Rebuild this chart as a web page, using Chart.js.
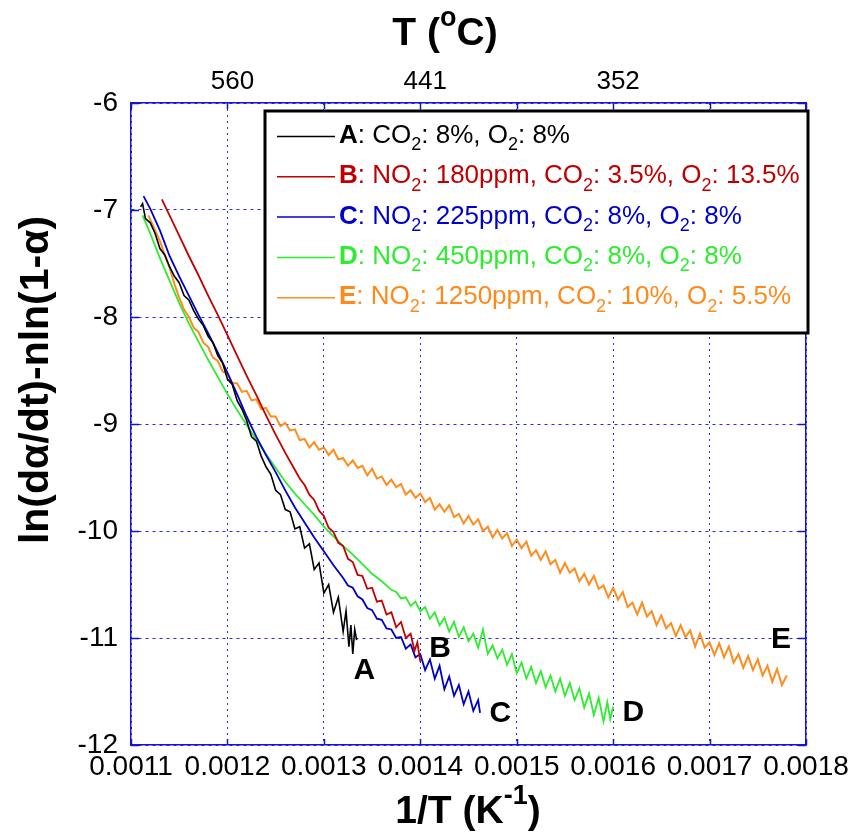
<!DOCTYPE html>
<html>
<head>
<meta charset="utf-8">
<script src="https://cdn.jsdelivr.net/npm/chart.js@4.4.1/dist/chart.umd.min.js"></script>
<style>
  html, body { margin: 0; padding: 0; background: #fff; }
  #wrap { width: 858px; height: 833px; }
</style>
</head>
<body>
<div id="wrap"><canvas id="chart" width="858" height="833"></canvas></div>
<script>
// axis ranges and ticks
const xMin = 0.0011, xMax = 0.0018;
const yMin = -12, yMax = -6;
const xTicks = [0.0011, 0.0012, 0.0013, 0.0014, 0.0015, 0.0016, 0.0017, 0.0018];
const yTicks = [-12, -11, -10, -9, -8, -7, -6];
const topTickPos = [0.0012, 0.0014, 0.0016];
const topTickLabels = ['560', '441', '352'];

// series
const seriesNames = ['A', 'B', 'C', 'D', 'E'];
const seriesColors = ['#000000', '#c40000', '#0000c8', '#2eec2e', '#ff8c1e'];
const legendColors = ['#000000', '#c00000', '#0000cc', '#2eec2e', '#ff8a1a'];
const legendText = [
  '*A*: CO_2: 8%, O_2: 8%',
  '*B*: NO_2: 180ppm, CO_2: 3.5%, O_2: 13.5%',
  '*C*: NO_2: 225ppm, CO_2: 8%, O_2: 8%',
  '*D*: NO_2: 450ppm, CO_2: 8%, O_2: 8%',
  '*E*: NO_2: 1250ppm, CO_2: 10%, O_2: 5.5%'
];

const curveA = [[0.001110,-6.97],[0.001112,-6.94],[0.001115,-7.08],[0.001120,-7.12],[0.001125,-7.22],[0.001130,-7.36],
  [0.001135,-7.42],[0.001140,-7.53],[0.001145,-7.62],[0.001150,-7.68],[0.001155,-7.80],[0.001160,-7.84],[0.001165,-7.94],
  [0.001170,-8.02],[0.001175,-8.08],[0.001180,-8.18],[0.001185,-8.24],[0.001190,-8.36],[0.001195,-8.43],[0.001200,-8.58],
  [0.001205,-8.63],[0.001210,-8.78],[0.001215,-8.86],[0.001220,-8.97],[0.001225,-9.12],[0.001230,-9.16],[0.001235,-9.30],
  [0.001240,-9.40],[0.001245,-9.47],[0.001250,-9.62],[0.001255,-9.66],[0.001260,-9.80],[0.001265,-9.82],[0.001270,-9.98],
  [0.001275,-9.96],[0.001280,-10.16],[0.001285,-10.12],[0.001290,-10.36],[0.001295,-10.30],[0.001300,-10.58],[0.001305,-10.50],
  [0.001310,-10.76],[0.001315,-10.62],[0.001320,-10.94],[0.001323,-10.75],[0.001326,-11.08],[0.001328,-10.88],[0.001330,-11.15],
  [0.001332,-10.92],[0.001334,-11.02]];

const curveB = [[0.001132,-6.90],[0.001140,-7.05],[0.001150,-7.24],[0.001160,-7.43],[0.001170,-7.61],[0.001180,-7.80],
  [0.001190,-7.98],[0.001200,-8.17],[0.001210,-8.36],[0.001220,-8.55],[0.001230,-8.73],[0.001240,-8.92],[0.001250,-9.10],
  [0.001260,-9.27],[0.001270,-9.43],[0.001275,-9.51],[0.001280,-9.57],[0.001285,-9.66],[0.001290,-9.71],[0.001295,-9.81],
  [0.001300,-9.86],[0.001305,-9.97],[0.001310,-10.01],[0.001315,-10.11],[0.001320,-10.14],[0.001325,-10.26],[0.001330,-10.29],
  [0.001335,-10.41],[0.001340,-10.42],[0.001345,-10.54],[0.001350,-10.53],[0.001355,-10.66],[0.001360,-10.65],[0.001365,-10.78],
  [0.001370,-10.76],[0.001375,-10.90],[0.001380,-10.85],[0.001385,-11.00],[0.001390,-10.96],[0.001394,-11.12],[0.001397,-11.04],
  [0.001400,-11.22]];

const curveC = [[0.001113,-6.87],[0.001120,-6.99],[0.001130,-7.19],[0.001140,-7.43],[0.001150,-7.62],[0.001160,-7.80],
  [0.001170,-7.98],[0.001180,-8.15],[0.001190,-8.33],[0.001200,-8.52],[0.001210,-8.72],[0.001220,-8.93],[0.001230,-9.12],
  [0.001240,-9.29],[0.001250,-9.45],[0.001260,-9.62],[0.001270,-9.78],[0.001280,-9.92],[0.001290,-10.06],[0.001300,-10.19],
  [0.001310,-10.32],[0.001320,-10.44],[0.001325,-10.51],[0.001330,-10.53],[0.001335,-10.61],[0.001340,-10.64],[0.001345,-10.72],
  [0.001350,-10.74],[0.001355,-10.82],[0.001360,-10.83],[0.001365,-10.91],[0.001370,-10.92],[0.001375,-11.00],[0.001380,-10.99],
  [0.001385,-11.10],[0.001390,-11.06],[0.001395,-11.18],[0.001400,-11.15],[0.001405,-11.30],[0.001410,-11.20],[0.001415,-11.38],
  [0.001420,-11.26],[0.001425,-11.48],[0.001430,-11.36],[0.001435,-11.54],[0.001440,-11.44],[0.001445,-11.62],[0.001450,-11.50],
  [0.001455,-11.68],[0.001460,-11.58],[0.001462,-11.70]];

const curveD = [[0.001112,-7.05],[0.001120,-7.22],[0.001130,-7.45],[0.001140,-7.66],[0.001150,-7.87],[0.001160,-8.06],
  [0.001170,-8.23],[0.001180,-8.40],[0.001190,-8.56],[0.001200,-8.72],[0.001210,-8.87],[0.001220,-9.01],[0.001230,-9.15],
  [0.001240,-9.28],[0.001250,-9.41],[0.001260,-9.54],[0.001270,-9.65],[0.001280,-9.75],[0.001290,-9.85],[0.001300,-9.96],
  [0.001310,-10.05],[0.001320,-10.14],[0.001330,-10.22],[0.001340,-10.31],[0.001350,-10.40],[0.001360,-10.47],[0.001370,-10.55],
  [0.001375,-10.57],[0.001380,-10.63],[0.001385,-10.62],[0.001390,-10.70],[0.001395,-10.66],[0.001400,-10.75],[0.001405,-10.71],
  [0.001410,-10.82],[0.001415,-10.76],[0.001420,-10.88],[0.001425,-10.81],[0.001430,-10.94],[0.001435,-10.85],[0.001440,-10.99],
  [0.001445,-10.90],[0.001450,-11.03],[0.001455,-10.96],[0.001460,-11.09],[0.001465,-10.92],[0.001470,-11.15],[0.001475,-11.07],
  [0.001480,-11.19],[0.001485,-11.11],[0.001490,-11.25],[0.001495,-11.15],[0.001500,-11.33],[0.001505,-11.23],[0.001510,-11.38],
  [0.001515,-11.27],[0.001520,-11.42],[0.001525,-11.31],[0.001530,-11.46],[0.001535,-11.35],[0.001540,-11.50],[0.001545,-11.38],
  [0.001550,-11.54],[0.001555,-11.42],[0.001560,-11.58],[0.001565,-11.47],[0.001570,-11.65],[0.001575,-11.52],[0.001580,-11.72],
  [0.001585,-11.56],[0.001590,-11.78],[0.001594,-11.60],[0.001597,-11.76],[0.001600,-11.64]];

const curveE = [[0.001118,-7.05],[0.001125,-7.19],[0.001130,-7.29],[0.001135,-7.42],[0.001140,-7.54],[0.001145,-7.69],
  [0.001150,-7.82],[0.001155,-7.93],[0.001160,-8.00],[0.001165,-8.10],[0.001170,-8.14],[0.001175,-8.24],[0.001180,-8.28],
  [0.001185,-8.38],[0.001190,-8.41],[0.001195,-8.51],[0.001200,-8.53],[0.001205,-8.62],[0.001210,-8.62],[0.001215,-8.70],
  [0.001220,-8.69],[0.001225,-8.78],[0.001230,-8.77],[0.001235,-8.86],[0.001240,-8.85],[0.001245,-8.93],
  [0.001250,-8.93],[0.001255,-9.02],[0.001260,-8.99],[0.001265,-9.06],[0.001270,-9.05],[0.001275,-9.15],[0.001280,-9.14],
  [0.001285,-9.22],[0.001290,-9.17],[0.001295,-9.24],[0.001300,-9.22],[0.001305,-9.29],[0.001310,-9.24],[0.001315,-9.33],
  [0.001320,-9.32],[0.001325,-9.39],[0.001330,-9.34],[0.001335,-9.41],[0.001340,-9.39],[0.001345,-9.48],[0.001350,-9.42],
  [0.001355,-9.51],[0.001360,-9.49],[0.001365,-9.57],[0.001370,-9.52],[0.001375,-9.59],[0.001380,-9.56],[0.001385,-9.66],
  [0.001390,-9.62],[0.001395,-9.69],[0.001400,-9.65],[0.001405,-9.73],[0.001410,-9.69],[0.001415,-9.80],[0.001420,-9.75],
  [0.001425,-9.82],[0.001430,-9.76],[0.001435,-9.87],[0.001440,-9.84],[0.001445,-9.93],[0.001450,-9.86],[0.001455,-9.94],
  [0.001460,-9.89],[0.001465,-10.00],[0.001470,-9.96],[0.001475,-10.06],[0.001480,-9.99],[0.001485,-10.07],[0.001490,-10.02],
  [0.001495,-10.14],[0.001500,-10.08],[0.001505,-10.16],[0.001510,-10.10],[0.001515,-10.23],[0.001520,-10.18],[0.001525,-10.27],
  [0.001530,-10.19],[0.001535,-10.31],[0.001540,-10.27],[0.001545,-10.39],[0.001550,-10.30],[0.001555,-10.39],[0.001560,-10.35],
  [0.001565,-10.47],[0.001570,-10.40],[0.001575,-10.50],[0.001580,-10.42],[0.001585,-10.54],[0.001590,-10.51],[0.001595,-10.62],
  [0.001600,-10.53],[0.001605,-10.64],[0.001610,-10.57],[0.001615,-10.71],[0.001620,-10.67],[0.001625,-10.78],[0.001630,-10.67],
  [0.001635,-10.80],[0.001640,-10.75],[0.001645,-10.88],[0.001650,-10.79],[0.001655,-10.91],[0.001660,-10.86],[0.001665,-10.98],
  [0.001670,-10.88],[0.001675,-10.99],[0.001680,-10.93],[0.001685,-11.08],[0.001690,-10.96],[0.001695,-11.09],[0.001700,-11.04],
  [0.001705,-11.16],[0.001710,-11.05],[0.001715,-11.18],[0.001720,-11.08],[0.001725,-11.23],[0.001730,-11.15],[0.001735,-11.28],
  [0.001740,-11.17],[0.001745,-11.30],[0.001750,-11.20],[0.001755,-11.35],[0.001760,-11.26],[0.001765,-11.41],[0.001770,-11.29],
  [0.001775,-11.44],[0.001780,-11.35]];

const curves = [curveA, curveB, curveC, curveD, curveE];
const drawOrder = [0, 1, 2, 4, 3];
const lineWidths = [1.6, 1.8, 1.8, 1.8, 2];

// end-of-curve letters
const labelX = [0.001342, 0.0014205, 0.001483, 0.001621, 0.001774];
const labelY = [-11.31, -11.10, -11.71, -11.70, -11.02];

const FONT = "'Liberation Sans', Arial, sans-serif";
const BLUE = '#1414cc';
const GRID = '#2a2ae6';

function richParts(str) {
  const out = [];
  let buf = '', bold = false, i = 0;
  const flush = () => { if (buf) out.push({ t: buf, s: 0, b: bold }); buf = ''; };
  while (i < str.length) {
    const ch = str[i];
    if (ch === '*') { flush(); bold = !bold; i++; }
    else if (ch === '_' || ch === '^') {
      flush();
      let t;
      if (str[i + 1] === '{') { const j = str.indexOf('}', i); t = str.slice(i + 2, j); i = j + 1; }
      else { t = str[i + 1]; i += 2; }
      out.push({ t: t, s: ch === '_' ? 1 : -1, b: bold });
    } else { buf += ch; i++; }
  }
  flush();
  return out;
}

function drawRich(ctx, str, x, y, size, weight, color, align) {
  const parts = richParts(str);
  const fontOf = p => (p.b ? 'bold' : weight) + ' ' + (p.s ? Math.round(size * 0.68) : size) + 'px ' + FONT;
  let total = 0;
  parts.forEach(p => { ctx.font = fontOf(p); p.w = ctx.measureText(p.t).width; total += p.w; });
  let cx = align === 'center' ? x - total / 2 : x;
  ctx.fillStyle = color;
  ctx.textAlign = 'left';
  ctx.textBaseline = 'middle';
  parts.forEach(p => {
    ctx.font = fontOf(p);
    const dy = p.s === 1 ? size * 0.36 : (p.s === -1 ? -size * 0.4 : 0);
    ctx.fillText(p.t, cx, y + dy);
    cx += p.w;
  });
}

// inner ticks, legend, letters and axis titles
const decor = {
  id: 'decor',
  afterDraw(chart) {
    const ctx = chart.ctx;
    const sx = chart.scales.x, sy = chart.scales.y;
    const a = chart.chartArea;
    ctx.save();

    ctx.strokeStyle = BLUE;
    ctx.lineWidth = 1.5;
    ctx.beginPath();
    xTicks.forEach(v => {
      const px = Math.round(sx.getPixelForValue(v)) + 0.5;
      ctx.moveTo(px, a.bottom); ctx.lineTo(px, a.bottom - 6);
      ctx.moveTo(px, a.top); ctx.lineTo(px, a.top + 6);
    });
    yTicks.forEach(v => {
      const py = Math.round(sy.getPixelForValue(v)) + 0.5;
      ctx.moveTo(a.left, py); ctx.lineTo(a.left + 8, py);
      ctx.moveTo(a.right, py); ctx.lineTo(a.right - 8, py);
    });
    ctx.stroke();

    // legend
    ctx.fillStyle = '#fff';
    ctx.fillRect(265, 111, 543, 222);
    ctx.strokeStyle = '#000';
    ctx.lineWidth = 3;
    ctx.strokeRect(265, 111, 543, 222);
    legendText.forEach((t, i) => {
      const y = 136 + i * 40.3;
      ctx.strokeStyle = seriesColors[i];
      ctx.lineWidth = 1.5;
      ctx.beginPath();
      ctx.moveTo(277, y + 0.5); ctx.lineTo(335, y + 0.5);
      ctx.stroke();
      drawRich(ctx, t, 339, y, 26, 'normal', legendColors[i], 'left');
    });

    // curve letters
    ctx.fillStyle = '#000';
    ctx.font = 'bold 30px ' + FONT;
    ctx.textAlign = 'center';
    ctx.textBaseline = 'middle';
    seriesNames.forEach((n, i) => {
      ctx.fillText(n, sx.getPixelForValue(labelX[i]), sy.getPixelForValue(labelY[i]));
    });

    // axis titles
    drawRich(ctx, 'T (^oC)', 445, 34, 39, 'bold', '#000', 'center');
    drawRich(ctx, '1/T (K^{-1})', 468, 812, 39, 'bold', '#000', 'center');
    ctx.translate(37, 380);
    ctx.rotate(-Math.PI / 2);
    drawRich(ctx, 'ln(d\u03b1/dt)-nln(1-\u03b1)', 0, 0, 41, 'bold', '#000', 'center');
    ctx.restore();
  }
};

new Chart(document.getElementById('chart'), {
  type: 'scatter',
  data: {
    datasets: curves.map((c, i) => ({
      label: seriesNames[i],
      data: c.map(p => ({ x: p[0], y: p[1] })),
      showLine: true,
      borderColor: seriesColors[i],
      backgroundColor: seriesColors[i],
      borderWidth: lineWidths[i],
      pointRadius: 0,
      tension: 0,
      order: drawOrder[i]
    }))
  },
  options: {
    responsive: false,
    animation: false,
    devicePixelRatio: 1,
    layout: { padding: { left: 0, right: 52, top: 0, bottom: 0 } },
    plugins: { legend: { display: false }, tooltip: { enabled: false } },
    scales: {
      x: {
        type: 'linear', position: 'bottom', min: xMin, max: xMax,
        afterBuildTicks: s => { s.ticks = xTicks.map(v => ({ value: v })); },
        afterFit: s => { s.height = 88; },
        ticks: {
          callback: v => v.toFixed(4), color: '#000', padding: 5,
          font: { family: FONT, size: 28 }, maxRotation: 0, autoSkip: false
        },
        grid: { color: GRID, lineWidth: 1, drawTicks: false },
        border: { color: BLUE, width: 1.5, dash: [2, 4] }
      },
      x2: {
        type: 'linear', position: 'top', min: xMin, max: xMax,
        afterBuildTicks: s => { s.ticks = topTickPos.map(v => ({ value: v })); },
        afterFit: s => { s.height = 103; },
        ticks: {
          callback: (v, i) => topTickLabels[i], color: '#000', padding: 6, labelOffset: 5,
          font: { family: FONT, size: 26 }, maxRotation: 0, autoSkip: false
        },
        grid: { drawOnChartArea: false, drawTicks: false },
        border: { color: BLUE, width: 1.5 }
      },
      y: {
        type: 'linear', position: 'left', min: yMin, max: yMax,
        afterBuildTicks: s => { s.ticks = yTicks.map(v => ({ value: v })); },
        afterFit: s => { s.width = 131; },
        ticks: { callback: v => String(v), color: '#000', padding: 13, font: { family: FONT, size: 28 } },
        grid: { color: GRID, lineWidth: 1, drawTicks: false },
        border: { color: BLUE, width: 1.5, dash: [3, 4] }
      },
      y2: {
        type: 'linear', position: 'right', min: yMin, max: yMax,
        afterFit: s => { s.width = 0; },
        ticks: { display: false },
        grid: { drawOnChartArea: false, drawTicks: false },
        border: { color: BLUE, width: 1.5 }
      }
    }
  },
  plugins: [decor]
});
</script>
</body>
</html>
